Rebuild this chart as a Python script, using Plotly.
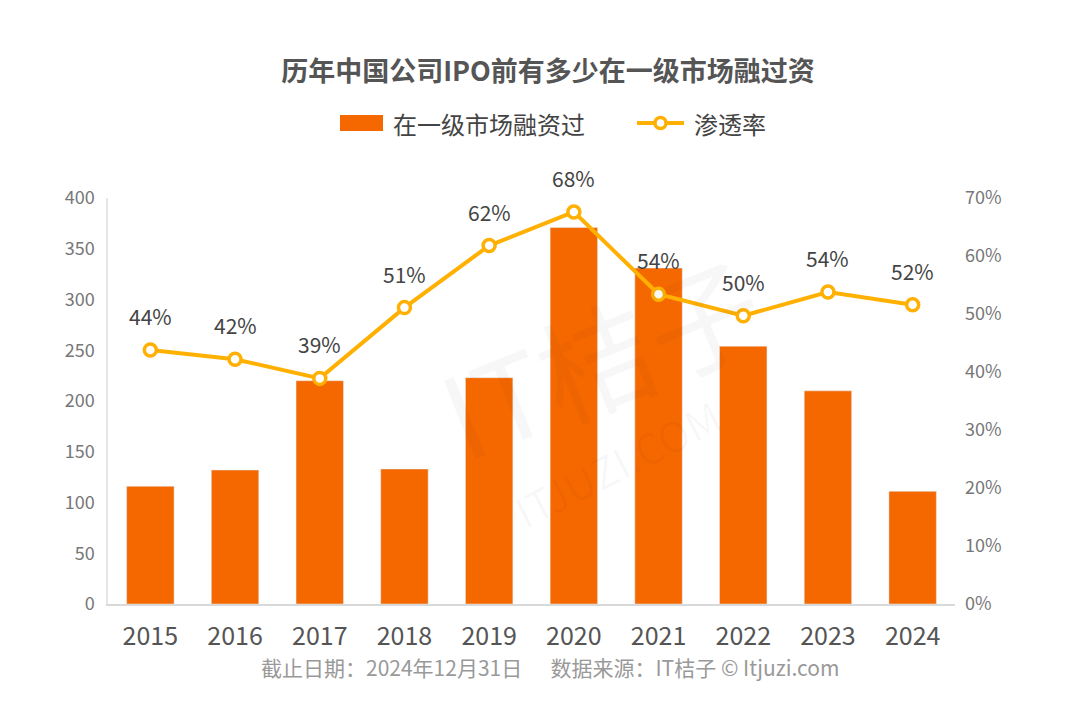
import plotly.graph_objects as go

years = ["2015", "2016", "2017", "2018", "2019", "2020", "2021", "2022", "2023", "2024"]
funded = [116, 132, 220, 133, 223, 371, 331, 254, 210, 111]
rate = [43.8, 42.2, 38.9, 51.1, 61.8, 67.6, 53.4, 49.7, 53.8, 51.6]
rate_labels = ["44%", "42%", "39%", "51%", "62%", "68%", "54%", "50%", "54%", "52%"]
left_ticks = [0, 50, 100, 150, 200, 250, 300, 350, 400]
right_ticks = [0, 10, 20, 30, 40, 50, 60, 70]
right_tick_text = [f"{v}%" for v in right_ticks]

FONT = "Noto Sans CJK SC"
BAR = "#F56800"
LINE = "#FFB000"
H = 716
OFF = 8  # page offset


def px(sx):
    return (sx - 108) / 847


def py(sy):
    return (604 - sy) / 406


fig = go.Figure()
fig.add_trace(go.Bar(x=years, y=funded, name="在一级市场融资过", marker_color=BAR,
                     yaxis="y", showlegend=False))
fig.add_trace(go.Scatter(x=years, y=rate, name="渗透率", yaxis="y2",
                         mode="lines+markers", showlegend=False,
                         line=dict(color=LINE, width=4),
                         marker=dict(size=12, color="white", line=dict(color=LINE, width=3.5))))

for i, (v, lab) in enumerate(zip(rate, rate_labels)):
    fig.add_annotation(x=i, y=v, xref="x", yref="y2", text=lab, showarrow=False,
                       yshift=34, font=dict(size=21, color="#444", family=FONT))

fig.update_layout(
    width=1080, height=H,
    paper_bgcolor="white", plot_bgcolor="white",
    font=dict(family=FONT, color="#555"),
    margin=dict(l=108 - OFF, r=1080 - 955 + OFF, t=198 - OFF, b=H - 406 - (198 - OFF),
                autoexpand=False),
    title=dict(text="<b>历年中国公司IPO前有多少在一级市场融过资</b>", x=0.5, xanchor="center",
               y=1 - (72 - OFF) / H, yanchor="middle",
               font=dict(size=27, color="#555", family=FONT)),
    showlegend=False,
    bargap=0.44,
    xaxis=dict(type="category", range=[-0.5, 9.5], showline=True, linecolor="#d9d9d9",
               linewidth=1.5, ticks="", automargin=False, ticklabelstandoff=9,
               tickfont=dict(size=25, color="#555", family=FONT), showgrid=False),
    yaxis=dict(range=[0, 400], tickvals=left_ticks, showgrid=False, zeroline=False,
               showline=True, linecolor="#e6e6e6", linewidth=1.5, automargin=False,
               tickfont=dict(size=18, color="#777", family=FONT), ticklabelstandoff=8),
    yaxis2=dict(range=[0, 70], tickvals=right_ticks, ticktext=right_tick_text, overlaying="y",
                side="right", showgrid=False, zeroline=False, showline=False, automargin=False,
                tickfont=dict(size=18, color="#777", family=FONT), ticklabelstandoff=9),
)

# faint watermark
fig.add_annotation(text="IT桔子", xref="paper", yref="paper", x=px(600), y=py(355),
                   showarrow=False, textangle=-22,
                   font=dict(size=115, color="rgba(0,0,0,0.03)", family=FONT))
fig.add_annotation(text="ITJUZI.COM", xref="paper", yref="paper", x=px(617), y=py(463),
                   showarrow=False, textangle=-27,
                   font=dict(size=42, color="rgba(0,0,0,0.03)", family=FONT))

# custom legend
ly = py(123)
fig.add_shape(type="rect", xref="paper", yref="paper",
              x0=px(340), x1=px(383), y0=ly - 8 / 406, y1=ly + 8 / 406,
              fillcolor=BAR, line=dict(width=0))
fig.add_annotation(text="在一级市场融资过", xref="paper", yref="paper", x=px(391), y=ly,
                   xanchor="left", yanchor="middle", showarrow=False,
                   font=dict(size=24, color="#444", family=FONT))
fig.add_shape(type="line", xref="paper", yref="paper",
              x0=px(637), x1=px(684), y0=ly, y1=ly,
              line=dict(color=LINE, width=4))
fig.add_shape(type="circle", xref="paper", yref="paper",
              x0=px(655), x1=px(666), y0=ly - 5.5 / 406, y1=ly + 5.5 / 406,
              fillcolor="white", line=dict(color=LINE, width=3.5))
fig.add_annotation(text="渗透率", xref="paper", yref="paper", x=px(692), y=ly,
                   xanchor="left", yanchor="middle", showarrow=False,
                   font=dict(size=24, color="#444", family=FONT))

fig.add_annotation(text="截止日期：2024年12月31日      数据来源：IT桔子 © Itjuzi.com",
                   xref="paper", yref="paper", x=px(550), y=py(667), xanchor="center",
                   yanchor="middle", showarrow=False,
                   font=dict(size=21, color="#999", family=FONT))

fig.write_html("out.html")
